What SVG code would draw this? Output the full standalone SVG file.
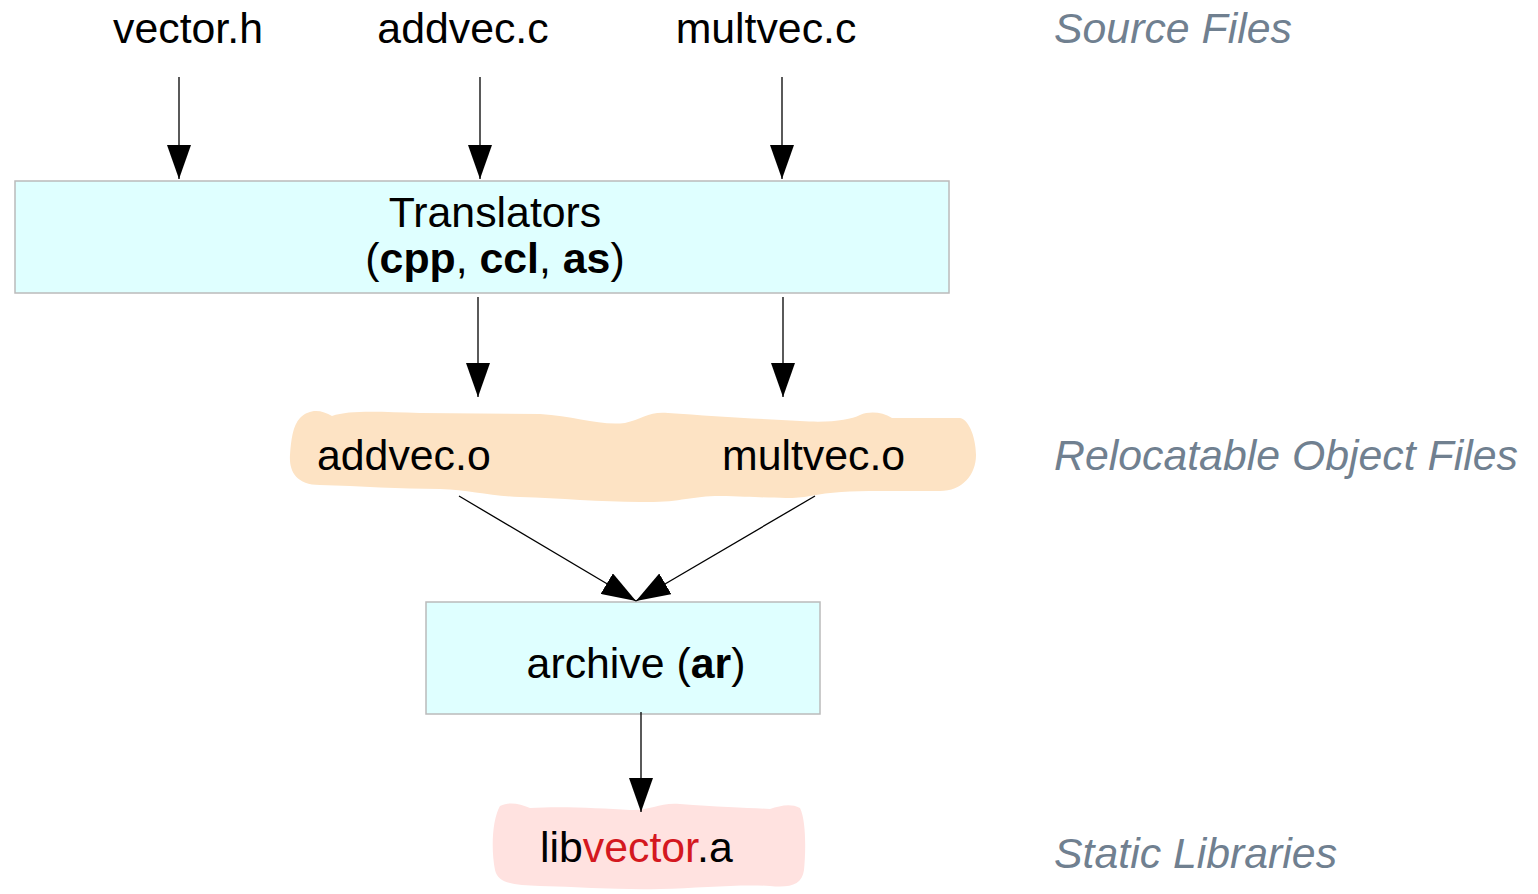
<svg xmlns="http://www.w3.org/2000/svg" width="1538" height="894" viewBox="0 0 1538 894">
<defs>
<marker id="ah" markerUnits="userSpaceOnUse" markerWidth="34" markerHeight="24" refX="34" refY="12" viewBox="0 0 34 24" orient="auto">
<path d="M0,0 L34,12 L0,24 Z" fill="#000"/>
</marker>
<style>
text{font-family:"Liberation Sans",Arial,sans-serif;font-size:42.8px;fill:#000}
.lbl{font-style:italic;fill:#708090}
.box{fill:#dfffff;stroke:#bbbbbb;stroke-width:1.5}
.c{stroke:#000;stroke-width:1.3;fill:none;marker-end:url(#ah)}
.b{font-weight:bold}
</style>
</defs>
<rect width="1538" height="894" fill="#fff"/>
<g id="src-vector-h"><text x="188" y="43" text-anchor="middle">vector.h</text></g>
<g id="src-addvec-c"><text x="463" y="43" text-anchor="middle">addvec.c</text></g>
<g id="src-multvec-c"><text x="766" y="43" text-anchor="middle">multvec.c</text></g>
<g id="translators">
<rect class="box" x="15" y="181" width="934" height="112"/>
<text x="495" y="227" text-anchor="middle">Translators</text>
<text x="495" y="273" text-anchor="middle">(<tspan class="b">cpp</tspan>, <tspan class="b">ccl</tspan>, <tspan class="b">as</tspan>)</text>
</g>
<g id="objects">
<path fill="#fde3c4" d="M300,418 C310,408 322,410 332,416 C350,410 380,412 420,413 L540,414 C575,416 600,426 625,423 C642,419 650,411 668,413 C710,416 760,419 800,421 C830,423 850,420 860,415 C870,411 882,412 892,418 L960,418 C970,420 976,440 976,455 C976,475 962,491 940,491 L880,491 C850,491 830,492 810,496 C790,500 770,497 720,496 C690,496 680,503 640,502 C600,502 560,498 520,497 C490,496 470,490 440,489 C400,489 360,486 320,485 C295,485 289,470 290,455 C291,440 293,425 300,418 Z"/>
<text x="317" y="470">addvec.o</text>
<text x="722" y="470">multvec.o</text>
</g>
<g id="archive">
<rect class="box" x="426" y="602" width="394" height="112"/>
<text x="636" y="678" text-anchor="middle">archive (<tspan class="b">ar</tspan>)</text>
</g>
<g id="libvector">
<path fill="#ffe2e0" d="M500,806 C510,801 520,804 530,808 C560,806 600,808 630,810 C650,811 660,802 680,804 C720,807 750,808 770,809 C780,806 790,803 800,808 C806,820 806,850 804,870 C802,885 790,888 770,886 C740,884 700,888 660,889 C620,890 580,887 540,886 C515,885 498,884 495,870 C491,850 492,820 500,806 Z"/>
<text x="540" y="862">lib<tspan fill="#d41820">vector</tspan>.a</text>
</g>
<g id="labels">
<text class="lbl" x="1054" y="43">Source Files</text>
<text class="lbl" x="1054" y="470">Relocatable Object Files</text>
<text class="lbl" x="1054" y="868">Static Libraries</text>
</g>
<g id="connectors">
<line class="c" x1="179" y1="77" x2="179" y2="179"/>
<line class="c" x1="480" y1="77" x2="480" y2="179"/>
<line class="c" x1="782" y1="77" x2="782" y2="179"/>
<line class="c" x1="478" y1="297" x2="478" y2="397"/>
<line class="c" x1="783" y1="297" x2="783" y2="397"/>
<line class="c" x1="459" y1="496" x2="636" y2="601"/>
<line class="c" x1="815" y1="496" x2="636" y2="601"/>
<line class="c" x1="641" y1="712" x2="641" y2="812"/>
</g>
</svg>
